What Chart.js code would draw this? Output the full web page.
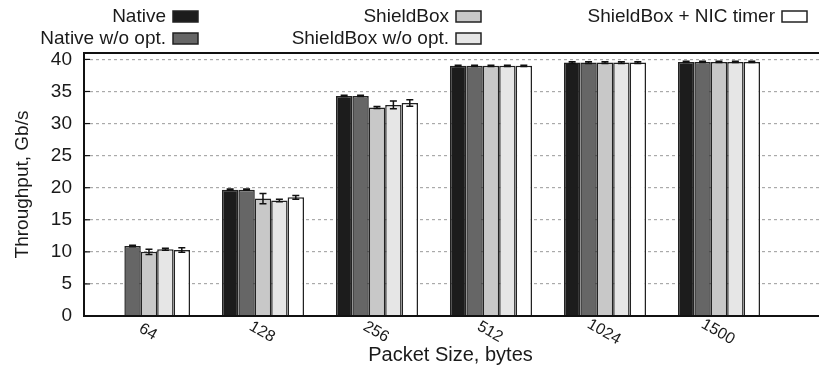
<!DOCTYPE html>
<html>
<head>
<meta charset="utf-8">
<script src="https://cdn.jsdelivr.net/npm/chart.js@4/dist/chart.umd.min.js"></script>
<style>
  html, body { margin: 0; padding: 0; background: #fff; overflow: hidden; }
  #wrap { width: 821px; height: 371px; }
</style>
</head>
<body>
<div id="wrap"><canvas id="chart" width="821" height="371"></canvas></div>
<script>
// Data (Gb/s)
const packetSizes = ["64", "128", "256", "512", "1024", "1500"];
const seriesNames = ["Native", "Native w/o opt.", "ShieldBox", "ShieldBox w/o opt.", "ShieldBox + NIC timer"];
const nativeVals       = [null, 19.7, 34.3, 39.0, 39.5, 39.6];
const nativeNoOptVals  = [10.9, 19.7, 34.3, 39.0, 39.5, 39.6];
const shieldVals       = [10.0, 18.3, 32.5, 39.0, 39.5, 39.6];
const shieldNoOptVals  = [10.4, 18.0, 32.9, 39.0, 39.5, 39.6];
const nicTimerVals     = [10.3, 18.5, 33.2, 39.0, 39.5, 39.6];

// error bar half widths
const nativeErr      = [0, 0.1, 0.1, 0.1, 0.15, 0.1];
const nativeNoOptErr = [0.12, 0.1, 0.1, 0.1, 0.15, 0.1];
const shieldErr      = [0.4, 0.8, 0.15, 0.1, 0.15, 0.1];
const shieldNoOptErr = [0.15, 0.2, 0.6, 0.1, 0.15, 0.1];
const nicTimerErr    = [0.35, 0.3, 0.5, 0.1, 0.15, 0.1];

const yTicks = [0, 5, 10, 15, 20, 25, 30, 35, 40];

const fills = ["#1c1c1c", "#666666", "#c8c8c8", "#e6e6e6", "#ffffff"];
const values = [nativeVals, nativeNoOptVals, shieldVals, shieldNoOptVals, nicTimerVals];
const errors = [nativeErr, nativeNoOptErr, shieldErr, shieldNoOptErr, nicTimerErr];
const FONT = "'Liberation Sans', Arial, sans-serif";
const TEXT = "#1a1a1a";

const datasets = values.map((vals, k) => ({
    label: seriesNames[k],
    data: vals.map((v, i) => ({ x: i, y: v })),
    backgroundColor: fills[k],
    borderColor: "#222",
    borderWidth: 1.5,
    borderSkipped: "bottom",
    categoryPercentage: 0.72,
    barPercentage: 1.0,
}));

// error bars, frame, rotated x labels and the gnuplot style key
const extras = {
    id: "extras",
    afterDatasetsDraw(chart) {
        const ctx = chart.ctx;
        const y = chart.scales.y;
        ctx.save();
        ctx.strokeStyle = "#111";
        ctx.lineWidth = 1.5;
        chart.data.datasets.forEach((ds, k) => {
            const meta = chart.getDatasetMeta(k);
            meta.data.forEach((bar, i) => {
                const v = values[k][i];
                const e = errors[k][i];
                if (v == null || !e) return;
                const top = y.getPixelForValue(v + e);
                const bot = y.getPixelForValue(v - e);
                ctx.beginPath();
                ctx.moveTo(bar.x, top); ctx.lineTo(bar.x, bot);
                ctx.moveTo(bar.x - 3.5, top); ctx.lineTo(bar.x + 3.5, top);
                ctx.moveTo(bar.x - 3.5, bot); ctx.lineTo(bar.x + 3.5, bot);
                ctx.stroke();
            });
        });
        ctx.restore();
    },
    afterDraw(chart) {
        const ctx = chart.ctx;
        const a = chart.chartArea;
        const x = chart.scales.x;
        const y = chart.scales.y;
        ctx.save();
        // frame
        ctx.strokeStyle = "#111";
        ctx.lineWidth = 2;
        ctx.beginPath();
        ctx.moveTo(a.right, a.top); ctx.lineTo(a.left, a.top);
        ctx.lineTo(a.left, a.bottom); ctx.lineTo(a.right, a.bottom);
        ctx.stroke();
        ctx.lineWidth = 1.2;
        yTicks.forEach(t => {
            const py = y.getPixelForValue(t);
            ctx.beginPath();
            ctx.moveTo(a.left, py); ctx.lineTo(a.left + 6, py);
            ctx.stroke();
        });
        // x labels, rotated clockwise
        ctx.fillStyle = TEXT;
        ctx.font = "16px " + FONT;
        ctx.textAlign = "center";
        ctx.textBaseline = "middle";
        packetSizes.forEach((lab, i) => {
            const px = x.getPixelForValue(i);
            ctx.save();
            ctx.translate(px - 1, a.bottom + 16);
            ctx.rotate(30 * Math.PI / 180);
            ctx.fillText(lab, 0, 0);
            ctx.restore();
        });
        ctx.font = "20px " + FONT;
        ctx.fillText("Packet Size, bytes", (a.left + a.right) / 2 - 2, 355);

        // key
        const key = [
            { k: 0, tx: 166, ty: 16 },
            { k: 1, tx: 166, ty: 38 },
            { k: 2, tx: 449, ty: 16 },
            { k: 3, tx: 449, ty: 38 },
            { k: 4, tx: 775, ty: 16 },
        ];
        ctx.font = "19px " + FONT;
        ctx.textAlign = "right";
        key.forEach(e => {
            ctx.fillStyle = TEXT;
            ctx.fillText(seriesNames[e.k], e.tx, e.ty + 1);
            ctx.fillStyle = fills[e.k];
            ctx.fillRect(e.tx + 7, e.ty - 5, 25, 11);
            ctx.strokeStyle = "#222";
            ctx.lineWidth = 1.5;
            ctx.strokeRect(e.tx + 7, e.ty - 5, 25, 11);
        });
        ctx.restore();
    }
};

new Chart(document.getElementById("chart"), {
    type: "bar",
    data: { datasets: datasets },
    options: {
        responsive: false,
        animation: false,
        layout: { padding: { top: 53, right: 0, left: 0, bottom: 0 } },
        plugins: { legend: { display: false }, tooltip: { enabled: false } },
        scales: {
            x: {
                type: "linear",
                min: -0.57,
                max: 5.895,
                offset: false,
                afterBuildTicks: s => { s.ticks = packetSizes.map((p, i) => ({ value: i })); },
                ticks: { display: false },
                grid: { display: false },
                border: { display: false },
                afterFit: s => { s.height = 55; },
            },
            y: {
                min: 0,
                max: 41,
                afterBuildTicks: s => { s.ticks = yTicks.map(v => ({ value: v })); },
                ticks: {
                    color: TEXT,
                    font: { family: FONT, size: 19 },
                    padding: 12,
                },
                grid: {
                    color: c => (c.tick.value === 0 ? "rgba(0,0,0,0)" : "#aaaaaa"),
                    lineWidth: 1.2,
                    drawTicks: false,
                },
                border: { display: false, dash: [3, 3] },
                title: {
                    display: true,
                    text: "Throughput, Gb/s",
                    color: TEXT,
                    font: { family: FONT, size: 19 },
                    padding: { top: 11, bottom: 0 },
                },
                afterFit: s => { s.width = 84; },
            },
        },
    },
    plugins: [extras],
});
</script>
</body>
</html>
